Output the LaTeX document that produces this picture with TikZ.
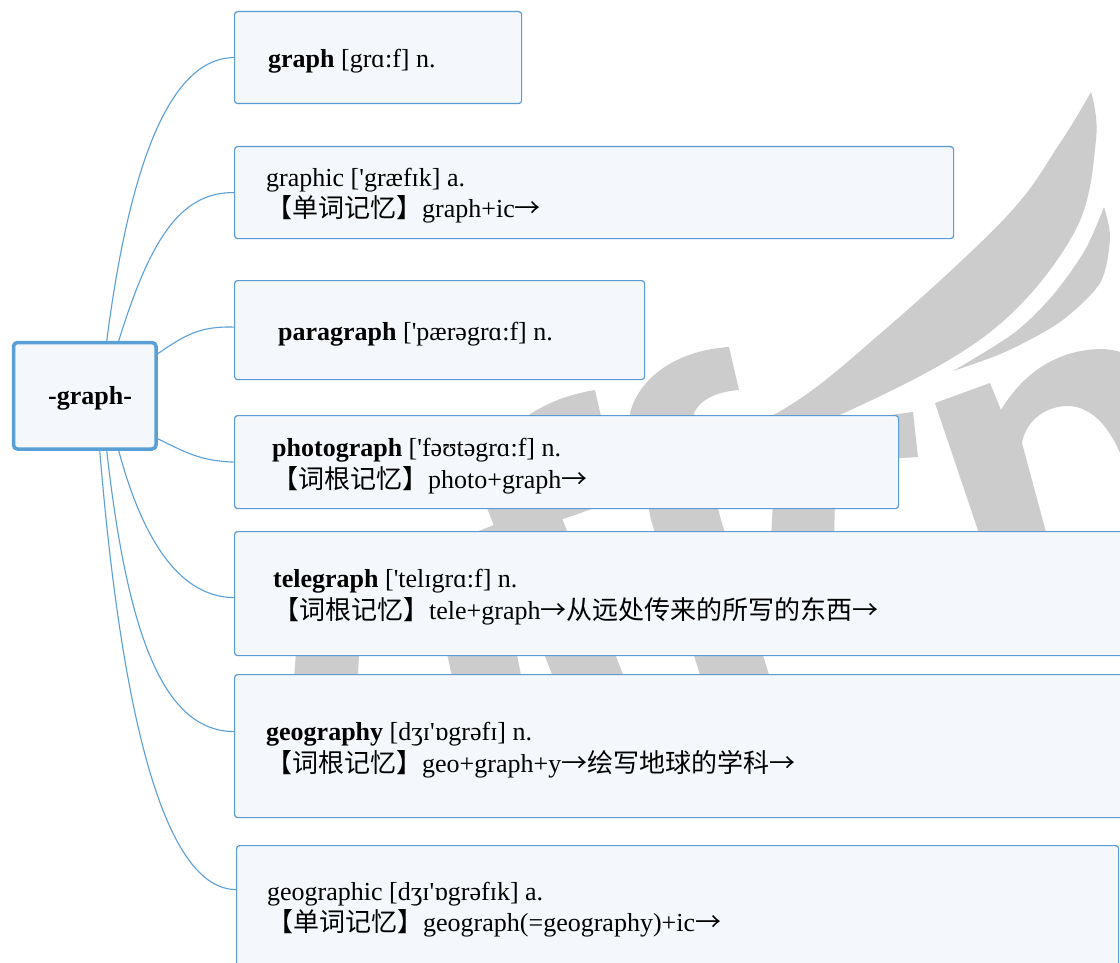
\documentclass[tikz,border=0pt]{standalone}
\usepackage{fontspec}
\setmainfont{Liberation Serif}[Ligatures=TeXOff]
\newfontfamily\cjk{Noto Sans CJK SC}
\newcommand{\rarr}{{\cjk →}}
\definecolor{bord}{HTML}{5B9BD5}
\definecolor{rootbord}{HTML}{5AA0D6}
\definecolor{linkc}{HTML}{5B9FD6}
\definecolor{boxfill}{HTML}{F4F7FC}
\definecolor{wmgray}{HTML}{CCCCCC}
\begin{document}
\begin{tikzpicture}[x=1pt,y=-1pt,
  box/.style={draw=bord, line width=1.2pt, fill=boxfill, rounded corners=3pt, inner sep=0pt, anchor=north west},
  rootbox/.style={draw=rootbord, line width=3.5pt, fill=boxfill, rounded corners=4pt, inner sep=0pt, anchor=north west},
  txt/.style={anchor=base west, inner sep=0pt, font=\fontsize{26}{33}\selectfont},
  link/.style={draw=linkc, line width=1.1pt},
  wm/.style={fill=wmgray, draw=none}]
\path[use as bounding box, clip] (0,0) rectangle (1120,963);
\fill[white] (0,0) rectangle (1120,963);
% watermark
\fill[wm] plot[smooth, tension=0.6] coordinates {(1091,92) (1060,143) (1006,217) (881,333) (777,413) (640,470) (520,515) (430,550)}
  -- plot[smooth, tension=0.6] coordinates {(430,550) (560,520) (700,465) (844,413) (989,333) (1074,233) (1096,140) (1091,92)} -- cycle;
\fill[wm] plot[smooth] coordinates {(1104,207) (1085,250) (1053,295) (1014,333) (953,371)}
  -- plot[smooth] coordinates {(953,371) (1005,352) (1060,322) (1100,283) (1110,238) (1104,207)} -- cycle;
\fill[wm] (729,347) -- (739,390) .. controls (715,392) and (700,400) .. (694,413) -- (721,520) -- (766,665) -- (795,760) -- (725,760) -- (697,665) -- (651,520) -- (630,413) .. controls (640,375) and (680,350) .. (729,347) -- cycle;
\fill[wm] (700,440) -- (913,412) -- (918,457) -- (700,470) -- cycle;
\fill[wm] (935,403) -- (990,383) -- (1001,410) .. controls (1025,370) and (1060,350) .. (1100,349) .. controls (1140,349) and (1160,380) .. (1170,420) -- (1240,640) -- (1160,640) -- (1120,453) .. controls (1108,425) and (1090,405) .. (1065,406) .. controls (1040,408) and (1025,425) .. (1022,443) -- (1075,640) -- (1015,640) -- cycle;
\fill[wm] (515,425) .. controls (540,405) and (565,395) .. (595,390) -- (603,425) -- cycle;
\fill[wm] (297,640) -- (360,640) -- (357,690) -- (293,690) -- cycle;
\fill[wm] (444,640) -- (514,640) -- (524,690) -- (455,690) -- cycle;
\fill[wm] (480,490) -- (551,490) -- (633,700) -- (562,700) -- cycle;
\fill[wm] (773,500) -- (835,500) -- (834,540) -- (771,540) -- cycle;
% boxes
\node[rootbox, minimum width=142.5pt, minimum height=106.5pt] (root) at (11.75,340.75) {};
\node[box, minimum width=287pt, minimum height=92pt] (b1) at (234,11) {};
\node[box, minimum width=719pt, minimum height=92pt] (b2) at (234,146) {};
\node[box, minimum width=410pt, minimum height=99pt] (b3) at (234,280) {};
\node[box, minimum width=664pt, minimum height=93pt] (b4) at (234,415) {};
\node[box, minimum width=900pt, minimum height=124pt] (b5) at (234,531) {};
\node[box, minimum width=900pt, minimum height=143pt] (b6) at (234,674) {};
\node[box, minimum width=882pt, minimum height=130pt] (b7) at (236,845) {};
% connectors
\draw[link] ([xshift=22pt]root.north) .. controls (125,200) and (160,58) .. (b1.west);
\draw[link] ([xshift=34pt]root.north) .. controls (150,240) and (180,192) .. (b2.west);
\draw[link] ([yshift=42pt]root.east) .. controls (185,335) and (200,326) .. ([yshift=3pt]b3.west);
\draw[link] ([yshift=-43pt]root.east) .. controls (185,452) and (200,461) .. (b4.west);
\draw[link] ([xshift=34pt]root.south) .. controls (140,530) and (175,597) .. ([yshift=-4pt]b5.west);
\draw[link] ([xshift=22pt]root.south) .. controls (128,640) and (165,731) .. ([yshift=14.5pt]b6.west);
\draw[link] ([xshift=15pt]root.south) .. controls (122,720) and (165,889) .. ([yshift=21pt]b7.west);
% texts
\node[txt] (t0) at (48,404) {\bfseries -graph-};
\node[txt] (t1) at (268,68) {\textbf{graph} [grɑ:f] n.};
\node[txt] (t2a) at (266,186) {graphic ['græfɪk] a.};
\node[txt] (t2b) at (266,218) {{\cjk 【单词记忆】}graph+ic\rarr};
\node[txt] (t3) at (278,340) {\textbf{paragraph} ['pærəgrɑ:f] n.};
\node[txt] (t4a) at (272,456) {\textbf{photograph} ['fəʊtəgrɑ:f] n.};
\node[txt] (t4b) at (272,488) {{\cjk 【词根记忆】}photo+graph\rarr};
\node[txt] (t5a) at (273,587) {\textbf{telegraph} ['telɪgrɑ:f] n.};
\node[txt] (t5b) at (273,619) {{\cjk 【词根记忆】}tele+graph\rarr{\cjk 从远处传来的所写的东西}\rarr};
\node[txt] (t6a) at (266,740) {\textbf{geography} [dʒɪ'ɒgrəfɪ] n.};
\node[txt] (t6b) at (266,772) {{\cjk 【词根记忆】}geo+graph+y\rarr{\cjk 绘写地球的学科}\rarr};
\node[txt] (t7a) at (267,900) {geographic [dʒɪ'ɒgrəfɪk] a.};
\node[txt] (t7b) at (267,931) {{\cjk 【单词记忆】}geograph(=geography)+ic\rarr};
\end{tikzpicture}
\end{document}
